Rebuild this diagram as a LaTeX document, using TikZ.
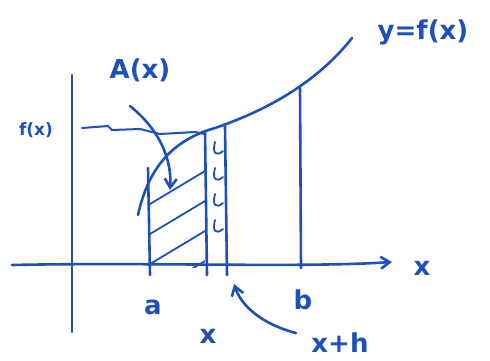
\documentclass[tikz,border=0pt]{standalone}
\usepackage{fontspec}
\setmainfont{DejaVu Sans}
\usepackage{xcolor}
\usetikzlibrary{arrows.meta,positioning,calc}
\definecolor{ink}{RGB}{30,80,185}

\begin{document}
\begin{tikzpicture}[x=1pt,y=-1pt,ink,line width=2.6pt,line cap=round,line join=round,
  lbl/.style={text=ink,font=\fontsize{26}{28}\selectfont\bfseries,inner sep=1pt},
  tip/.style={-{Straight Barb[length=9pt,width=12pt]}}]
\useasboundingbox (0,0) rectangle (490,360);
% axes
\draw (72,75) -- (72,332);
\draw[tip] (12,265) .. controls (150,262) and (300,268) .. (392,262);
\node[lbl] (xax) at (422,268) {x};
% hatched part between a and x
\begin{scope}
\clip (148,268) -- (148,168) .. controls (165,152) and (185,138) .. (205,131) -- (205,268) -- cycle;
\foreach \k in {0,30,60,90} {
  \draw[line width=1.8pt] (140,300-\k) -- (215,255-\k);
}
\end{scope}
% strip between x and x+h
\foreach \y in {142,168,194,220} {
  \draw[line width=1.8pt] (215,\y) .. controls (212,\y+11) and (216,\y+15) .. (223,\y+9);
}
% vertical lines
\draw (148,168) -- (150,275);
\draw (205,131) -- (207,275);
\draw (225,126) -- (227,275);
\draw (300,88) -- (301,268);
% curve
\draw (138,215) .. controls (150,160) and (180,138) .. (215,128)
  .. controls (262,112) and (315,85) .. (352,38);
\node[lbl] (fcurve) at (423,32) {y=f(x)};
% f(x) level
\draw[line width=2pt] (82,128) -- (108,126) -- (112,130) -- (140,129) -- (160,134) -- (195,132) -- (205,134);
\node[lbl,font=\fontsize{17}{18}\selectfont\bfseries] (fx) at (36,130) {f(x)};
% labels on the axis
\node[lbl] (la) at (153,307) {a};
\node[lbl] (lx) at (208,336) {x};
\node[lbl] (lb) at (303,300) {b};
\node[lbl] (lxh) at (340,343) {x+h};
\node[lbl] (lA) at (140,70) {A(x)};
% pointers
\coordinate (inA) at (170,190);
\coordinate (inxh) at (234,284);
\draw[tip] (130,106) .. controls (160,130) and (172,160) .. (inA);
\draw[tip] (296,333) .. controls (265,325) and (242,308) .. (inxh);
\end{tikzpicture}
\end{document}
